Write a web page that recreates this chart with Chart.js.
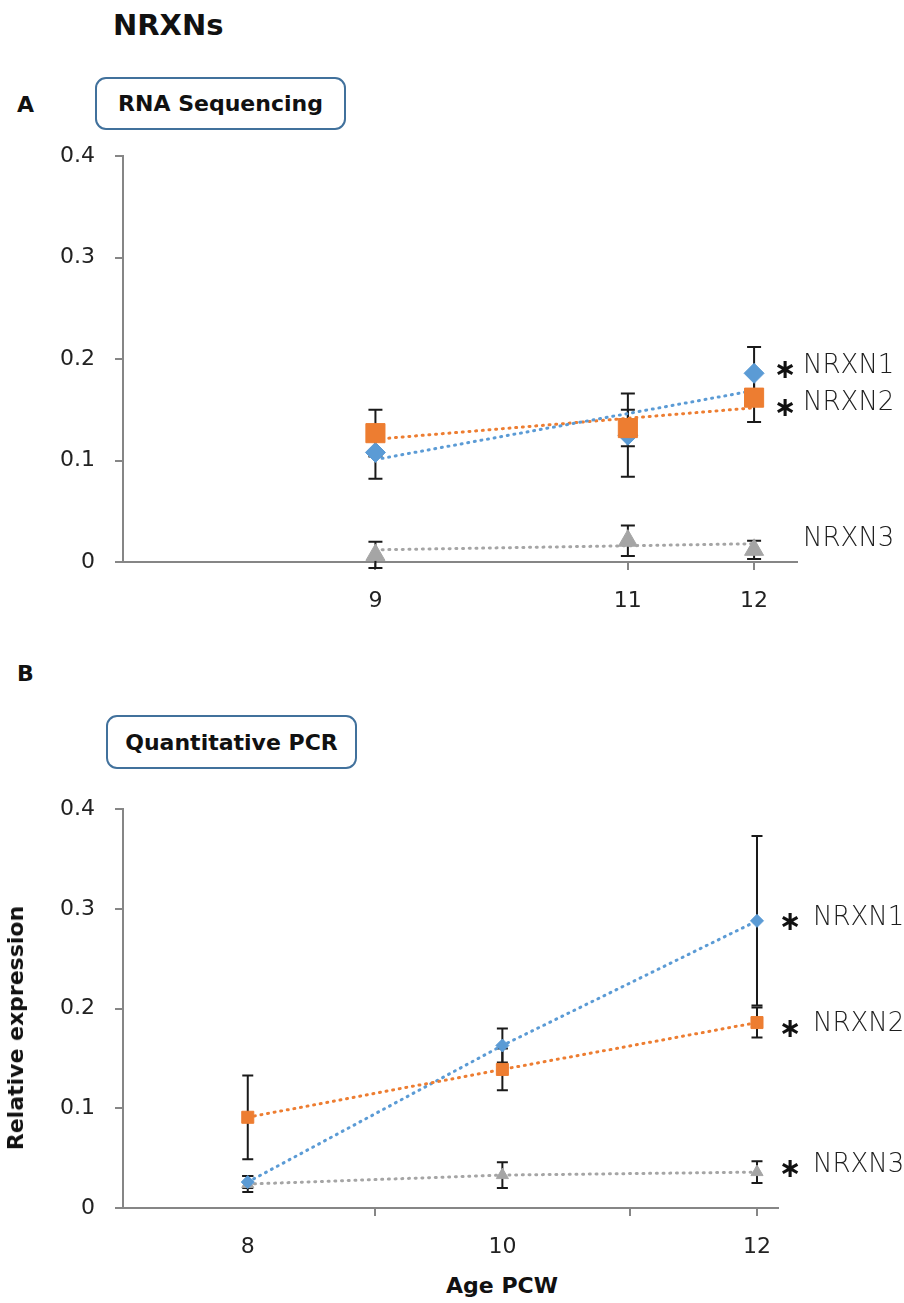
<!DOCTYPE html>
<html>
<head>
<meta charset="utf-8">
<title>NRXNs</title>
<script src="https://cdn.jsdelivr.net/npm/chart.js@4.4.1/dist/chart.umd.min.js"></script>
<style>
  body { margin: 0; background: #fff; width: 904px; height: 1303px; position: relative; overflow: hidden;
         font-family: 'DejaVu Sans', sans-serif; color: #111; }
  .abs { position: absolute; line-height: 1; white-space: nowrap; }
  .bold { font-weight: bold; }
  .box { position: absolute; box-sizing: border-box; border: 2px solid #41719c; border-radius: 11px;
         display: flex; align-items: center; justify-content: center; font-weight: bold; font-size: 22px; }
  canvas { position: absolute; left: 0; }
</style>
</head>
<body>
<div class="abs bold" style="left:113px; top:11px; font-size:29px;">NRXNs</div>
<div class="abs bold" style="left:17px; top:94px; font-size:22px;">A</div>
<div class="box" style="left:95px; top:77px; width:251px; height:53px;">RNA Sequencing</div>
<div class="abs bold" style="left:17px; top:663px; font-size:22px;">B</div>
<div class="box" style="left:106px; top:715px; width:251px; height:54px;">Quantitative PCR</div>

<canvas id="chartA" width="904" height="507" style="top:123px;"></canvas>
<canvas id="chartB" width="904" height="484" style="top:776px;"></canvas>

<div class="abs bold" style="left:16px; top:1028px; font-size:22px; transform: translate(-50%, -50%) rotate(-90deg);">Relative expression</div>
<div class="abs bold" style="left:502px; top:1275px; font-size:22px; transform: translateX(-50%);">Age PCW</div>

<script>
// ---- 数据 ----
const seriesNames = ['NRXN1', 'NRXN2', 'NRXN3'];
const yTicks = [0, 0.1, 0.2, 0.3, 0.4];

// A: RNA Sequencing
const weeksA = [9, 11, 12];
const nrxn1A = [0.108, 0.125, 0.186];
const nrxn1ErrA = [0.026, 0.041, 0.026];
const nrxn2A = [0.127, 0.132, 0.162];
const nrxn2ErrA = [0.023, 0.018, 0.024];
const nrxn3A = [0.007, 0.021, 0.012];
const nrxn3ErrA = [0.013, 0.015, 0.009];
// dotted linear trend lines, read at 9 and 12
const trendWeeksA = [9, 12];
const nrxn1TrendA = [0.101, 0.169];
const nrxn2TrendA = [0.121, 0.152];
const nrxn3TrendA = [0.012, 0.018];
const tickWeeksA = [9, 11, 12];
const starsA = [true, true, false];

// B: Quantitative PCR
const weeksB = [8, 10, 12];
const nrxn1B = [0.026, 0.163, 0.288];
const nrxn1ErrB = [0.006, 0.017, 0.085];
const nrxn2B = [0.091, 0.139, 0.186];
const nrxn2ErrB = [0.042, 0.021, 0.015];
const nrxn3B = [0.024, 0.033, 0.036];
const nrxn3ErrB = [0.008, 0.013, 0.011];
const tickMarksB = [9, 11, 12];
const tickLabelsB = [8, 10, 12];
const starsB = [true, true, true];

const COLORS = ['#5b9bd5', '#ed7d31', '#a5a5a5'];
const AXIS = '#868686';
const INK = '#222222';

const pts = (xs, ys) => xs.map((x, i) => ({ x, y: ys[i] }));

// 误差线
const errorBars = {
  id: 'errorBars',
  beforeDatasetsDraw(chart, args, opts) {
    const { ctx, scales: { x, y } } = chart;
    ctx.save();
    ctx.strokeStyle = '#1a1a1a';
    ctx.lineWidth = 2;
    chart.data.datasets.forEach(ds => {
      if (!ds.errors) return;
      ds.data.forEach((p, i) => {
        const e = ds.errors[i];
        const px = x.getPixelForValue(p.x);
        const top = y.getPixelForValue(p.y + e);
        const bot = y.getPixelForValue(p.y - e);
        ctx.beginPath();
        ctx.moveTo(px, top); ctx.lineTo(px, bot);
        ctx.moveTo(px - opts.cap, top); ctx.lineTo(px + opts.cap, top);
        ctx.moveTo(px - opts.cap, bot); ctx.lineTo(px + opts.cap, bot);
        ctx.stroke();
      });
    });
    ctx.restore();
  }
};

// 右侧系列标签
const seriesLabels = {
  id: 'seriesLabels',
  afterDraw(chart, args, opts) {
    const { ctx, scales: { x, y } } = chart;
    const px = x.getPixelForValue(opts.atX);
    ctx.save();
    ctx.textBaseline = 'middle';
    opts.names.forEach((name, i) => {
      const py = y.getPixelForValue(opts.ys[i]);
      if (opts.stars[i]) {
        ctx.font = 'bold 27px "DejaVu Sans"';
        ctx.fillStyle = '#111';
        ctx.textAlign = 'center';
        ctx.fillText('\u2217', px + opts.starDx, py + 5);
      }
      ctx.font = '200 26px "DejaVu Sans"';
      ctx.fillStyle = '#1e1e1e';
      ctx.textAlign = 'left';
      ctx.fillText(name, px + opts.textDx, py);
    });
    ctx.restore();
  }
};

function markerSet(data, errors, i, style, radius) {
  return {
    data, errors, showLine: false, order: [2, 1, 3][i],
    pointStyle: style, pointRadius: radius, pointHoverRadius: radius,
    backgroundColor: COLORS[i], borderColor: COLORS[i], pointBorderWidth: 1
  };
}

function dottedSet(data, i, extra) {
  return Object.assign({
    data, showLine: true, borderColor: COLORS[i], borderWidth: 3,
    borderDash: [1, 5.7], borderCapStyle: 'round', pointRadius: 0, order: 5 + i
  }, extra);
}

function axes(xMin, xMax, xTicks, xLabel, xMark, xHeight) {
  const tickFont = { family: 'DejaVu Sans', size: 22 };
  return {
    x: {
      type: 'linear', min: xMin, max: xMax,
      afterBuildTicks: s => { s.ticks = xTicks.map(v => ({ value: v })); },
      afterFit: s => { s.height = xHeight; },
      border: { color: AXIS, width: 2 },
      grid: { drawOnChartArea: false, tickLength: 8, lineWidth: 2,
              color: c => xMark(c.tick && c.tick.value) ? AXIS : 'rgba(0,0,0,0)' },
      ticks: { padding: 18, color: INK, font: tickFont,
               maxRotation: 0, autoSkip: false, callback: v => xLabel(v) ? String(v) : '' }
    },
    y: {
      min: 0, max: 0.4,
      afterBuildTicks: s => { s.ticks = yTicks.map(v => ({ value: v })); },
      afterFit: s => { s.width = 123; },
      border: { color: AXIS, width: 2 },
      grid: { drawOnChartArea: false, tickLength: 8, lineWidth: 2, color: AXIS },
      ticks: { padding: 20, color: INK, font: tickFont,
               callback: v => v === 0 ? '0' : v.toFixed(1) }
    }
  };
}

const baseOpts = {
  responsive: false,
  animation: false,
  events: [],
  plugins: { legend: { display: false }, tooltip: { enabled: false } }
};

// ---- 图 A ----
new Chart(document.getElementById('chartA'), {
  type: 'scatter',
  data: {
    datasets: [
      dottedSet(pts(trendWeeksA, nrxn1TrendA), 0),
      dottedSet(pts(trendWeeksA, nrxn2TrendA), 1),
      dottedSet(pts(trendWeeksA, nrxn3TrendA), 2),
      markerSet(pts(weeksA, nrxn1A), nrxn1ErrA, 0, 'rectRot', 10),
      markerSet(pts(weeksA, nrxn2A), nrxn2ErrA, 1, 'rect', 13.5),
      markerSet(pts(weeksA, nrxn3A), nrxn3ErrA, 2, 'triangle', 11)
    ]
  },
  options: Object.assign({}, baseOpts, {
    layout: { autoPadding: false, padding: { top: 15, right: 107, bottom: 0, left: 0 } },
    scales: axes(7, 12.34, tickWeeksA, v => tickWeeksA.includes(v), v => tickWeeksA.includes(v), 68),
    plugins: Object.assign({}, baseOpts.plugins, {
      errorBars: { cap: 7 },
      seriesLabels: { atX: 12, names: seriesNames, ys: [0.193, 0.156, 0.022], stars: starsA, starDx: 31, textDx: 49 }
    })
  }),
  plugins: [errorBars, seriesLabels]
});

// ---- 图 B ----
new Chart(document.getElementById('chartB'), {
  type: 'scatter',
  data: {
    datasets: [
      Object.assign(markerSet(pts(weeksB, nrxn1B), nrxn1ErrB, 0, 'rectRot', 6.5), dottedSet(null, 0, {}), { data: pts(weeksB, nrxn1B), pointRadius: 6.5, order: 2 }),
      Object.assign(markerSet(pts(weeksB, nrxn2B), nrxn2ErrB, 1, 'rect', 8.5), dottedSet(null, 1, {}), { data: pts(weeksB, nrxn2B), pointRadius: 8.5, order: 1 }),
      Object.assign(markerSet(pts(weeksB, nrxn3B), nrxn3ErrB, 2, 'triangle', 7), dottedSet(null, 2, {}), { data: pts(weeksB, nrxn3B), pointRadius: 7, order: 3 })
    ]
  },
  options: Object.assign({}, baseOpts, {
    layout: { autoPadding: false, padding: { top: 18, right: 126, bottom: 0, left: 0 } },
    scales: axes(7.02, 12.165, [8, 9, 10, 11, 12], v => tickLabelsB.includes(v), v => tickMarksB.includes(v), 52),
    plugins: Object.assign({}, baseOpts.plugins, {
      errorBars: { cap: 5.5 },
      seriesLabels: { atX: 12, names: seriesNames, ys: [0.291, 0.184, 0.043], stars: starsB, starDx: 33, textDx: 56 }
    })
  }),
  plugins: [errorBars, seriesLabels]
});
</script>
</body>
</html>
